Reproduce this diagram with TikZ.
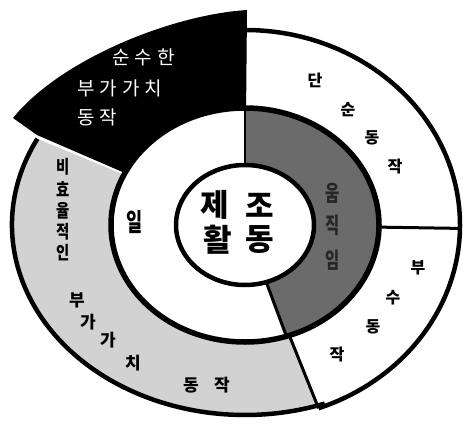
\documentclass[tikz,border=0pt]{standalone}
\usepackage{fontspec}
\usepackage{graphicx}
\usetikzlibrary{shapes.geometric}
\newfontfamily\kr{Noto Sans CJK KR}
\begin{document}
\begin{tikzpicture}[x=1pt,y=1pt,line join=round,
  txt/.style={inner sep=0pt,font=\kr\bfseries\fontsize{16}{16}\selectfont},
  outline/.style={draw=black,line width=4.5pt},
  divider/.style={draw=black,line width=3pt}]
\useasboundingbox (0,0) rectangle (463,424);
\coordinate (O) at (245,199);
% outer ring
\begin{scope}[shift={(O)}]
  \fill[gray!35] (0,0) -- (153:233pt and 190pt) arc[start angle=153,end angle=290,x radius=233pt,y radius=190pt] -- cycle;
  \fill[white] (0,0) -- (90:215pt and 195pt) arc[start angle=90,end angle=-70,x radius=215pt,y radius=195pt] -- cycle;
  \draw[outline] (153:233pt and 190pt) arc[start angle=153,end angle=290,x radius=233pt,y radius=190pt];
  \draw[outline] (90:215pt and 195pt) arc[start angle=90,end angle=-70,x radius=215pt,y radius=195pt];
  \coordinate (d1) at (-1:215pt and 195pt);
  \coordinate (d2) at (-70:215pt and 195pt);
\end{scope}
\draw[divider] (O) -- (d1);
\draw[divider] (O) -- (d2);
% black segment
\fill[black] (247,414) .. controls (170,409) and (60,364) .. (13,306) -- (37,289) -- (O) -- cycle;
% middle ring
\begin{scope}[shift={(O)}]
  \fill[black!58] (0,0) -- (90:134pt and 117pt) arc[start angle=90,end angle=-72,x radius=134pt,y radius=117pt] -- cycle;
  \fill[white] (0,0) -- (90:134pt and 117pt) arc[start angle=90,end angle=288,x radius=134pt,y radius=117pt] -- cycle;
  \draw[draw=black,line width=5.5pt] (0,0) ellipse[x radius=134pt,y radius=117pt];
  \coordinate (m1) at (90:134pt and 117pt);
  \coordinate (m2) at (-72:134pt and 117pt);
\end{scope}
\draw[divider,line width=2.5pt] (O) -- (m1);
\draw[divider] (O) -- (m2);
% centre
\node[draw=black,line width=4.5pt,fill=white,ellipse,minimum width=138pt,minimum height=120pt,inner sep=0pt] (c) at (O) {};
% texts in black segment
\node[txt,text=white,anchor=west,font=\kr\fontsize{19}{19}\selectfont] (b1) at (112,367) {순\hspace{5pt}수\hspace{5pt}한};
\node[txt,text=white,anchor=west,font=\kr\fontsize{19}{19}\selectfont] (b2) at (77,336) {부\hspace{5pt}가\hspace{5pt}가\hspace{5pt}치};
\node[txt,text=white,anchor=west,font=\kr\fontsize{19}{19}\selectfont] (b3) at (77,307) {동\hspace{5pt}작};
% 단순동작
\node[txt] (s1) at (315,344) {단};
\node[txt] (s2) at (348,314) {순};
\node[txt] (s3) at (372,286) {동};
\node[txt] (s4) at (395,257) {작};
% 부수동작
\node[txt] (a1) at (418,156) {부};
\node[txt] (a2) at (393,126) {수};
\node[txt] (a3) at (373,97) {동};
\node[txt] (a4) at (337,69) {작};
% 비효율적인
\node[txt,font=\kr\bfseries\fontsize{18}{18}\selectfont] (n1) at (63,257) {\scalebox{0.8}[1]{비}};
\node[txt,font=\kr\bfseries\fontsize{18}{18}\selectfont] (n2) at (63,235) {\scalebox{0.8}[1]{효}};
\node[txt,font=\kr\bfseries\fontsize{18}{18}\selectfont] (n3) at (63,213) {\scalebox{0.8}[1]{율}};
\node[txt,font=\kr\bfseries\fontsize{18}{18}\selectfont] (n4) at (63,192) {\scalebox{0.8}[1]{적}};
\node[txt,font=\kr\bfseries\fontsize{18}{18}\selectfont] (n5) at (63,171) {\scalebox{0.8}[1]{인}};
% 부가가치 동작
\node[txt,font=\kr\bfseries\fontsize{17}{17}\selectfont] (g1) at (77,124) {부};
\node[txt,font=\kr\bfseries\fontsize{17}{17}\selectfont] (g2) at (88,102) {가};
\node[txt,font=\kr\bfseries\fontsize{17}{17}\selectfont] (g3) at (108,84) {가};
\node[txt,font=\kr\bfseries\fontsize{17}{17}\selectfont] (g4) at (133,61) {치};
\node[txt,font=\kr\bfseries\fontsize{17}{17}\selectfont] (g5) at (191,39) {동};
\node[txt,font=\kr\bfseries\fontsize{17}{17}\selectfont] (g6) at (222,39) {작};
% 일
\node[txt,font=\kr\bfseries\fontsize{25}{25}\selectfont] (w) at (135,202) {\scalebox{0.7}[1]{일}};
% 움직임
\node[txt,font=\kr\bfseries\fontsize{22}{22}\selectfont,text=black!85] (u1) at (333,231) {\scalebox{0.7}[1]{움}};
\node[txt,font=\kr\bfseries\fontsize{22}{22}\selectfont,text=black!85] (u2) at (333,199) {\scalebox{0.7}[1]{직}};
\node[txt,font=\kr\bfseries\fontsize{22}{22}\selectfont,text=black!85] (u3) at (333,164) {\scalebox{0.7}[1]{임}};
% 제조 활동
\node[txt,font=\kr\bfseries\fontsize{31}{31}\selectfont] (c1) at (215,219) {제};
\node[txt,font=\kr\bfseries\fontsize{31}{31}\selectfont] (c2) at (260,219) {조};
\node[txt,font=\kr\bfseries\fontsize{31}{31}\selectfont] (c3) at (218,184) {활};
\node[txt,font=\kr\bfseries\fontsize{31}{31}\selectfont] (c4) at (260,184) {동};
\end{tikzpicture}
\end{document}
